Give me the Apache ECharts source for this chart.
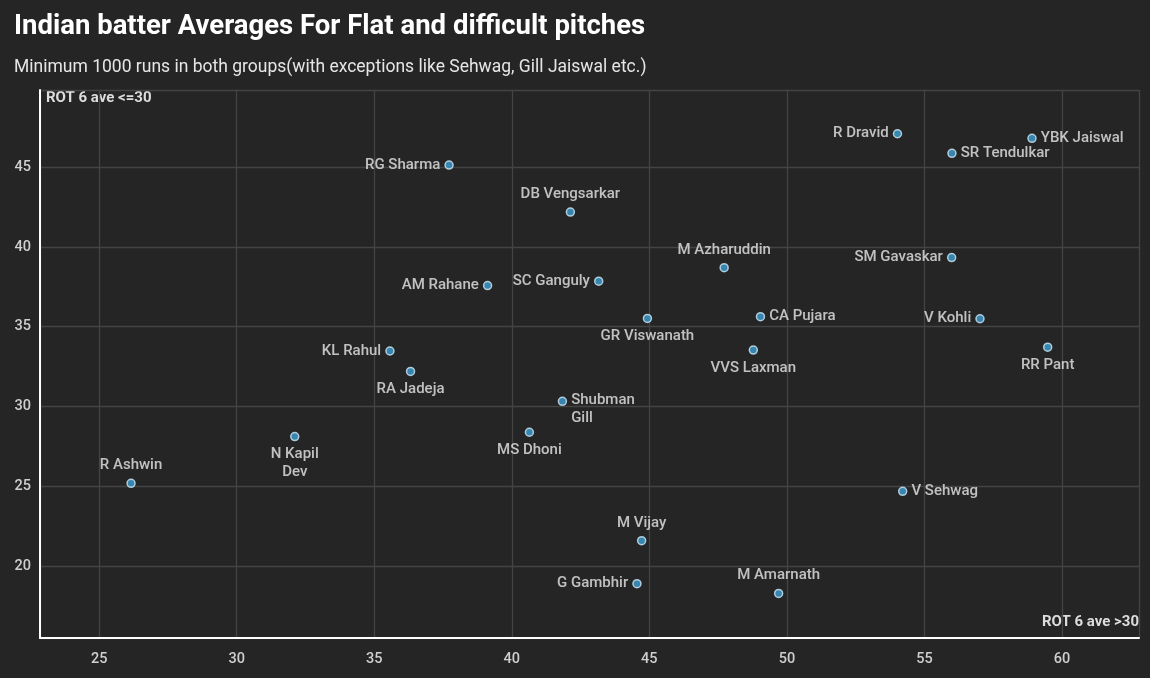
<!DOCTYPE html>
<html>
<head>
<meta charset="utf-8">
<script src="https://cdn.jsdelivr.net/npm/echarts@6/dist/echarts.min.js"></script>
<style>
html,body{margin:0;padding:0;background:#252525;}
#c{width:1150px;height:678px;}
</style>
</head>
<body>
<div id="c"></div>
<script>
const players = ["R Dravid","YBK Jaiswal","SR Tendulkar","RG Sharma","DB Vengsarkar","M Azharuddin","SM Gavaskar","AM Rahane","SC Ganguly","GR Viswanath","CA Pujara","V Kohli","RR Pant","KL Rahul","RA Jadeja","VVS Laxman","Shubman\nGill","MS Dhoni","N Kapil\nDev","R Ashwin","V Sehwag","M Vijay","G Gambhir","M Amarnath"];
const flatAve = [54.02,58.91,56.0,37.72,42.13,47.72,55.99,39.12,43.16,44.93,49.04,57.02,59.48,35.57,36.32,48.78,41.84,40.64,32.11,26.16,54.21,44.72,44.55,49.7];
const difficultAve = [47.09,46.8,45.86,45.13,42.18,38.7,39.33,37.58,37.85,35.52,35.63,35.5,33.72,33.48,32.2,33.54,30.33,28.39,28.12,25.19,24.69,21.6,18.9,18.29];
const xTicks = [25,30,35,40,45,50,55,60];
const yTicks = [20,25,30,35,40,45];

// label placement per point (presentation only)
const labelPlace = {
  "R Dravid":"left","YBK Jaiswal":"right","SR Tendulkar":"right","RG Sharma":"left",
  "DB Vengsarkar":"top","M Azharuddin":"top","SM Gavaskar":"left","AM Rahane":"left",
  "SC Ganguly":"left","GR Viswanath":"bottom","CA Pujara":"right","V Kohli":"left",
  "RR Pant":"bottom","KL Rahul":"left","RA Jadeja":"bottom","VVS Laxman":"bottom",
  "Shubman\nGill":"right","MS Dhoni":"bottom","N Kapil\nDev":"bottom","R Ashwin":"top",
  "V Sehwag":"right","M Vijay":"top","G Gambhir":"left","M Amarnath":"top"
};

const data = players.map((p,i)=>{
  const pos = labelPlace[p];
  const lab = {position:pos, distance:4};
  if (p === "Shubman\nGill") { lab.align='left'; lab.offset=[0,8]; }
  return {name:p, value:[flatAve[i], difficultAve[i]], label:lab};
});

const chart = echarts.init(document.getElementById('c'));
chart.setOption({
  backgroundColor:'#252525',
  animation:false,
  textStyle:{fontFamily:'Roboto'},
  title:[
    {text:'Indian batter Averages For Flat and difficult pitches', left:9, top:8,
     textStyle:{color:'#ffffff', fontSize:27.5, fontWeight:'bold', fontFamily:'Roboto'}},
    {text:'Minimum 1000 runs in both groups(with exceptions like Sehwag, Gill Jaiswal etc.)', left:9, top:54,
     textStyle:{color:'#e6e6e6', fontSize:17.5, fontWeight:'normal', fontFamily:'Roboto'}}
  ],
  grid:{left:40, right:11, top:90, bottom:40, containLabel:false},
  xAxis:{
    type:'value', min:22.85, max:62.8, splitNumber:8,
    axisLine:{show:true, onZero:false, lineStyle:{color:'#ffffff', width:2}},
    axisTick:{show:false},
    axisLabel:{color:'#cfcfcf', fontSize:14.5, fontWeight:500, margin:14, showMinLabel:false, showMaxLabel:false,
      formatter:v=> xTicks.includes(v) ? String(v) : ''},
    splitLine:{show:true, lineStyle:{color:'#444444', width:1.3}}
  },
  yAxis:{
    type:'value', min:15.5, max:49.83, splitNumber:7,
    axisLine:{show:true, onZero:false, lineStyle:{color:'#ffffff', width:2}},
    axisTick:{show:false},
    axisLabel:{color:'#cfcfcf', fontSize:14.5, fontWeight:500, margin:9, showMinLabel:false, showMaxLabel:false,
      formatter:v=> yTicks.includes(v) ? String(v) : ''},
    splitLine:{show:true, lineStyle:{color:'#444444', width:1.3}}
  },
  graphic:[
    {type:'text', left:46, top:91, style:{text:'ROT 6 ave <=30', fill:'#dddddd', font:'bold 15px Roboto'}},
    {type:'text', right:11, top:615, style:{text:'ROT 6 ave >30', fill:'#dddddd', font:'bold 15px Roboto'}}
  ],
  series:[{
    type:'scatter',
    symbolSize:8,
    itemStyle:{color:'#3d9fd3', borderColor:'#cfe8f5', borderWidth:1.5},
    label:{show:true, formatter:'{b}', color:'#e8e8e8', fontSize:15, fontWeight:500, fontFamily:'Roboto', lineHeight:18},
    data:data
  }]
});
</script>
</body>
</html>
